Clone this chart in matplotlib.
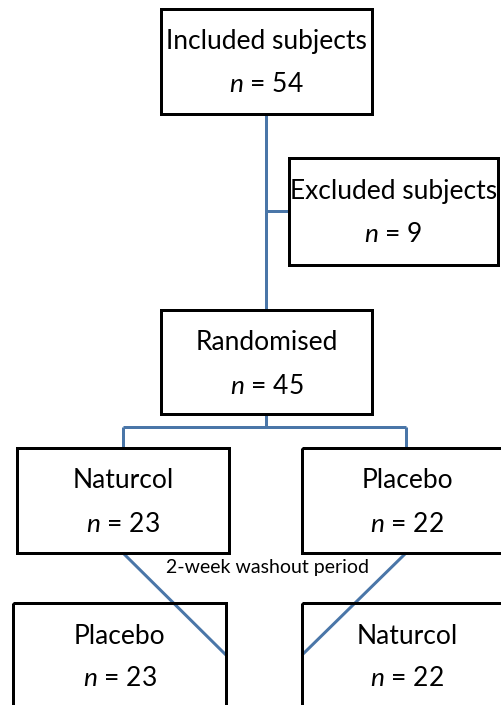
import matplotlib.pyplot as plt
from matplotlib.patches import Rectangle

# flowchart content
labels = ["Included subjects", "Excluded subjects", "Randomised",
          "Naturcol", "Placebo", "Placebo", "Naturcol"]
counts = [54, 9, 45, 23, 22, 23, 22]
washout_label = "2-week washout period"

# box layout in pixels: (left, top, right, bottom)
boxes = [
    (161, 9, 372, 114),
    (289, 158, 498, 265),
    (161, 310, 372, 414),
    (17, 448, 229, 553),
    (302, 448, 512, 553),
    (13, 603, 226, 720),
    (302, 603, 512, 720),
]

W, H = 502, 705
LINE = "#4a76a8"
LW = 3.0 * 72 / 100

plt.rcParams["font.family"] = ["Lato", "DejaVu Sans"]
plt.rcParams["mathtext.fontset"] = "custom"
plt.rcParams["mathtext.it"] = "Lato:italic"
plt.rcParams["mathtext.rm"] = "Lato"

fig = plt.figure(figsize=(W / 100, H / 100), dpi=100)
ax = fig.add_axes([0, 0, 1, 1])
ax.set_xlim(0, W)
ax.set_ylim(H, 0)
ax.axis("off")


def conn(xs, ys):
    ax.plot(xs, ys, color=LINE, lw=LW, solid_capstyle="butt", zorder=1)


# connectors
conn([266, 266], [114, 310])
conn([266, 289], [211, 211])
conn([266, 266], [414, 427])
conn([123, 406], [427, 427])
conn([123, 123], [427, 448])
conn([406, 406], [427, 448])
conn([123, 226], [553, 655])
conn([406, 302], [553, 655])

for (l, t, r, b), lab, n in zip(boxes, labels, counts):
    ax.add_patch(Rectangle((l, t), r - l, b - t, fill=False, ec="black",
                           lw=LW, zorder=2, joinstyle="miter"))
    cx = (l + r) / 2
    ax.text(cx, t + 33, lab, ha="center", va="center", fontsize=19, zorder=3)
    ax.text(cx, t + 76, f"$\\it{{n}}$ = {n}", ha="center", va="center",
            fontsize=19, zorder=3)

ax.text(268, 568, washout_label, ha="center", va="center", fontsize=14,
        zorder=3)

fig.savefig("out.png", dpi=100)
